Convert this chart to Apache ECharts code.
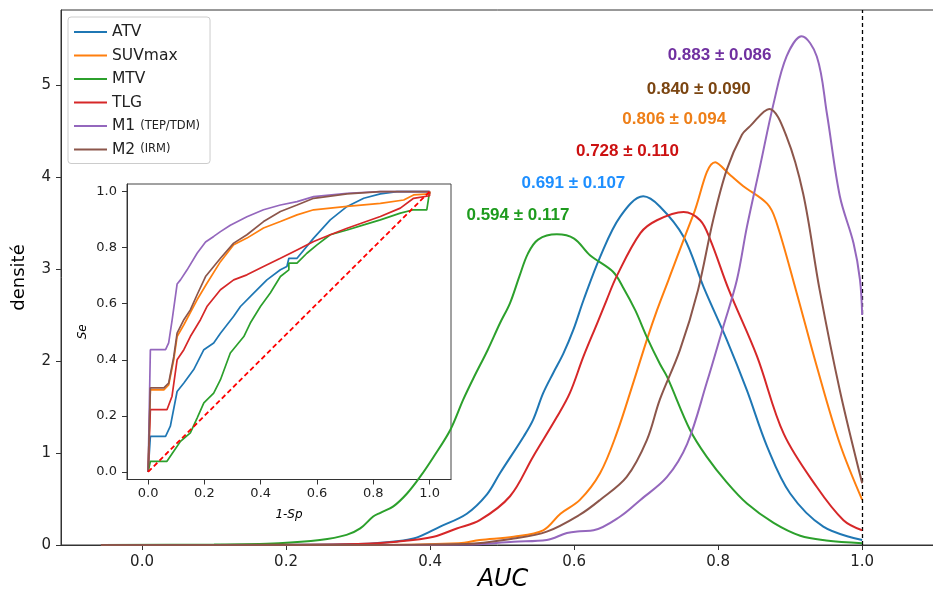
<!DOCTYPE html>
<html><head><meta charset="utf-8">
<script src="https://cdn.jsdelivr.net/npm/echarts@6/dist/echarts.min.js"></script>
<style>html,body{margin:0;padding:0;background:#fff;overflow:hidden}#c{width:933px;height:591px}</style>
</head><body><div id="c"></div><script>
// ---------- data ----------
const seriesNames = ['ATV', 'SUVmax', 'MTV', 'TLG', 'M1 (TEP/TDM)', 'M2 (IRM)'];
const seriesColors = ['#1f77b4', '#ff7f0e', '#2ca02c', '#d62728', '#9467bd', '#8c564b'];

// density curves of AUC: [AUC, density]
const densATV = [[-0.057,0],[0.2,0.003],[0.3,0.01],[0.331,0.025],[0.377,0.07],[0.414,0.2],[0.451,0.34],[0.479,0.55],[0.497,0.78],[0.53,1.18],[0.543,1.36],[0.557,1.65],[0.571,1.87],[0.585,2.08],[0.599,2.34],[0.613,2.66],[0.636,3.13],[0.664,3.57],[0.696,3.79],[0.719,3.68],[0.752,3.35],[0.78,2.8],[0.812,2.23],[0.84,1.68],[0.868,1.07],[0.9,0.56],[0.946,0.2],[1.0,0.054]];
const densSUVmax = [[-0.057,0],[0.3,0],[0.44,0.02],[0.469,0.054],[0.516,0.09],[0.557,0.16],[0.581,0.34],[0.608,0.49],[0.636,0.78],[0.659,1.21],[0.682,1.76],[0.701,2.23],[0.715,2.55],[0.731,2.88],[0.766,3.6],[0.796,4.16],[0.817,4.02],[0.835,3.9],[0.868,3.71],[0.88,3.53],[0.908,2.77],[0.937,1.94],[0.969,1.1],[1.0,0.49]];
const densMTV = [[-0.057,0],[0.1,0.005],[0.19,0.02],[0.247,0.054],[0.284,0.11],[0.303,0.18],[0.321,0.31],[0.331,0.35],[0.349,0.42],[0.368,0.56],[0.386,0.74],[0.405,0.96],[0.428,1.25],[0.446,1.58],[0.46,1.81],[0.48,2.12],[0.497,2.41],[0.511,2.63],[0.524,2.92],[0.536,3.17],[0.55,3.32],[0.576,3.377],[0.6,3.33],[0.622,3.15],[0.654,2.97],[0.668,2.8],[0.685,2.55],[0.701,2.26],[0.719,1.97],[0.729,1.83],[0.761,1.25],[0.784,0.96],[0.812,0.68],[0.84,0.45],[0.877,0.24],[0.914,0.1],[0.95,0.05],[1.0,0.02]];
const densTLG = [[-0.057,0],[0.2,0.003],[0.3,0.01],[0.354,0.036],[0.405,0.09],[0.437,0.18],[0.469,0.27],[0.511,0.53],[0.543,0.96],[0.576,1.39],[0.594,1.65],[0.613,2.05],[0.632,2.41],[0.645,2.66],[0.659,2.92],[0.692,3.39],[0.715,3.53],[0.752,3.62],[0.775,3.53],[0.789,3.32],[0.815,2.77],[0.854,2.05],[0.891,1.21],[0.937,0.63],[0.974,0.27],[1.0,0.16]];
const densM1 = [[-0.057,0],[0.3,0],[0.45,0.005],[0.516,0.036],[0.562,0.054],[0.59,0.13],[0.608,0.15],[0.627,0.16],[0.664,0.31],[0.692,0.49],[0.729,0.74],[0.757,1.1],[0.784,1.76],[0.807,2.37],[0.826,2.88],[0.84,3.46],[0.858,4.11],[0.877,4.8],[0.895,5.31],[0.916,5.53],[0.937,5.31],[0.951,4.69],[0.969,3.79],[0.988,3.28],[0.997,2.88],[1.0,2.5]];
const densM2 = [[-0.057,0],[0.3,0],[0.45,0.01],[0.516,0.07],[0.562,0.145],[0.608,0.33],[0.636,0.49],[0.673,0.74],[0.701,1.14],[0.719,1.58],[0.747,2.12],[0.772,2.77],[0.793,3.53],[0.812,4.08],[0.833,4.46],[0.844,4.55],[0.871,4.74],[0.895,4.44],[0.918,3.82],[0.941,2.77],[0.969,1.68],[1.0,0.67]];

// ROC curves (inset): [1-Sp, Se]
const rocATV = [[0,0],[0.008,0.127],[0.062,0.127],[0.079,0.163],[0.103,0.287],[0.127,0.317],[0.162,0.365],[0.198,0.436],[0.233,0.46],[0.257,0.495],[0.304,0.555],[0.328,0.59],[0.375,0.638],[0.422,0.685],[0.47,0.721],[0.493,0.733],[0.5,0.762],[0.529,0.762],[0.588,0.834],[0.647,0.899],[0.707,0.947],[0.766,0.976],[0.825,0.992],[0.884,1],[1,1]];
const rocSUVmax = [[0,0],[0.008,0.293],[0.056,0.293],[0.073,0.31],[0.091,0.4],[0.103,0.483],[0.127,0.525],[0.174,0.614],[0.209,0.673],[0.257,0.75],[0.304,0.81],[0.351,0.834],[0.41,0.87],[0.47,0.893],[0.529,0.917],[0.588,0.935],[0.707,0.947],[0.825,0.958],[0.908,0.97],[0.943,0.988],[1,0.992],[1,1]];
const rocMTV = [[0,0],[0.008,0.038],[0.067,0.038],[0.091,0.074],[0.115,0.109],[0.15,0.139],[0.174,0.192],[0.198,0.246],[0.233,0.281],[0.257,0.329],[0.292,0.424],[0.34,0.483],[0.363,0.531],[0.399,0.59],[0.434,0.638],[0.47,0.697],[0.5,0.721],[0.5,0.745],[0.529,0.745],[0.564,0.78],[0.6,0.81],[0.647,0.846],[0.707,0.863],[0.766,0.881],[0.825,0.899],[0.896,0.923],[0.943,0.935],[0.99,0.935],[1,1]];
const rocTLG = [[0,0],[0.008,0.222],[0.067,0.222],[0.085,0.27],[0.103,0.4],[0.127,0.436],[0.15,0.483],[0.186,0.543],[0.209,0.59],[0.257,0.65],[0.304,0.685],[0.351,0.703],[0.41,0.733],[0.47,0.762],[0.529,0.792],[0.588,0.822],[0.647,0.846],[0.707,0.869],[0.825,0.911],[0.896,0.941],[0.943,0.976],[1,0.985],[1,1]];
const rocM1 = [[0,0],[0.008,0.436],[0.062,0.436],[0.073,0.46],[0.085,0.54],[0.103,0.67],[0.115,0.685],[0.138,0.72],[0.174,0.78],[0.204,0.82],[0.233,0.84],[0.257,0.857],[0.292,0.88],[0.351,0.91],[0.41,0.935],[0.47,0.952],[0.529,0.964],[0.588,0.982],[0.707,0.994],[0.825,1],[1,1]];
const rocM2 = [[0,0],[0.008,0.3],[0.056,0.3],[0.073,0.317],[0.091,0.41],[0.103,0.495],[0.127,0.543],[0.15,0.578],[0.174,0.632],[0.204,0.697],[0.233,0.733],[0.257,0.762],[0.304,0.816],[0.351,0.846],[0.41,0.893],[0.47,0.929],[0.529,0.952],[0.588,0.976],[0.707,0.992],[0.825,1],[1,1]];
const rocChance = [[0,0],[1,1]];

// AUC annotations (mean ± sd), in series order
const aucTexts = ['0.691 ± 0.107', '0.806 ± 0.094', '0.594 ± 0.117', '0.728 ± 0.110', '0.883 ± 0.086', '0.840 ± 0.090'];

// tick labels
const mainXTicks = [0.0, 0.2, 0.4, 0.6, 0.8, 1.0];
const mainYTicks = [0, 1, 2, 3, 4, 5];
const insetTicks = [0.0, 0.2, 0.4, 0.6, 0.8, 1.0];

// ---------- layout / style (not data) ----------
const labelAnchors = [[0.599, 3.932], [0.739, 4.627], [0.522, 3.579], [0.674, 4.275], [0.802, 5.326], [0.773, 4.957]];
const labelColors = ['#1e8fff', '#ee7f18', '#1e9b1e', '#cc1111', '#7030a0', '#7b4511'];

const densities = [densATV, densSUVmax, densMTV, densTLG, densM1, densM2];
const rocs = [rocATV, rocSUVmax, rocMTV, rocTLG, rocM1, rocM2];

const tickFont = 'DejaVu Sans';
const series = [];
densities.forEach((d, i) => {
  series.push({
    name: seriesNames[i], type: 'line', xAxisIndex: 0, yAxisIndex: 0,
    data: d, showSymbol: false, symbol: 'none', smooth: 0.35,
    lineStyle: { width: 2, color: seriesColors[i] }, itemStyle: { color: seriesColors[i] },
    z: 3 + i,
    markLine: i === 0 ? {
      silent: true, symbol: 'none', label: { show: false },
      lineStyle: { color: '#000', type: [4, 3], width: 1.3 },
      data: [{ xAxis: 1.0 }]
    } : undefined
  });
});
rocs.forEach((d, i) => {
  series.push({
    name: seriesNames[i], type: 'line', xAxisIndex: 1, yAxisIndex: 1,
    data: d, showSymbol: false, symbol: 'none',
    lineStyle: { width: 1.7, color: seriesColors[i] }, itemStyle: { color: seriesColors[i] },
    z: 10 + i
  });
});
series.push({
  name: 'chance', type: 'line', xAxisIndex: 1, yAxisIndex: 1, data: rocChance,
  showSymbol: false, symbol: 'none',
  lineStyle: { width: 1.8, color: '#ff0000', type: [5, 3] }, z: 20
});
series.push({
  name: 'AUC', type: 'scatter', xAxisIndex: 0, yAxisIndex: 0, symbolSize: 0, silent: true, z: 30,
  itemStyle: { opacity: 1 },
  data: labelAnchors.map((p, i) => ({
    value: p,
    label: { show: true, position: 'inside', formatter: aucTexts[i], color: labelColors[i],
      fontWeight: 'bold', fontSize: 17, fontFamily: 'Liberation Sans' }
  }))
});

const axisLineStyle = { show: true, onZero: false, lineStyle: { color: '#333', width: 1 } };

const chart = echarts.init(document.getElementById('c'), null, { renderer: 'canvas' });
chart.setOption({
  backgroundColor: '#ffffff',
  animation: false,
  textStyle: { fontFamily: tickFont },
  legend: {
    data: seriesNames, orient: 'vertical', left: 68, top: 17,
    padding: [7, 10, 6, 6], itemWidth: 33, itemHeight: 14, itemGap: 7.5, itemTextGap: 18,
    icon: 'path://M0,0h33v2h-33z', symbolKeepAspect: true,
    borderColor: '#cccccc', borderWidth: 1, borderRadius: 3, backgroundColor: 'rgba(255,255,255,0.8)',
    textStyle: { fontSize: 15.5, color: '#222', fontFamily: tickFont, rich: { s: { fontSize: 11.5, color: '#222', fontFamily: tickFont } } },
    formatter: n => n.replace(/ \((.*)\)/, ' {s|($1)}'),
    selectedMode: false
  },
  grid: [
    { left: 61, top: 10, width: 884, height: 535, show: true, borderColor: '#333', borderWidth: 1, backgroundColor: 'transparent', outerBoundsMode: 'none', containLabel: false },
    { left: 127, top: 184, width: 324, height: 295.5, show: true, borderColor: '#444', borderWidth: 1, backgroundColor: 'transparent', outerBoundsMode: 'none', containLabel: false }
  ],
  xAxis: [
    { type: 'value', gridIndex: 0, min: -0.1125, max: 1.115,
      axisLine: axisLineStyle,
      axisTick: { show: true, length: 5, customValues: mainXTicks, lineStyle: { color: '#333' } },
      axisLabel: { customValues: mainXTicks, formatter: v => v.toFixed(1), fontSize: 15, color: '#222', margin: 10, fontFamily: tickFont },
      splitLine: { show: false },
      name: 'AUC', nameLocation: 'middle', nameGap: 23, nameMoveOverlap: false,
      nameTextStyle: { fontSize: 24, fontStyle: 'italic', color: '#000', fontFamily: tickFont } },
    { type: 'value', gridIndex: 1, min: -0.075, max: 1.076,
      axisLine: axisLineStyle,
      axisTick: { show: true, length: 5, customValues: insetTicks, lineStyle: { color: '#333' } },
      axisLabel: { customValues: insetTicks, formatter: v => v.toFixed(1), fontSize: 13, color: '#222', margin: 8, fontFamily: tickFont },
      splitLine: { show: false },
      name: '1-Sp', nameLocation: 'middle', nameGap: 29, nameMoveOverlap: false,
      nameTextStyle: { fontSize: 12, fontStyle: 'italic', color: '#000', fontFamily: tickFont } }
  ],
  yAxis: [
    { type: 'value', gridIndex: 0, min: 0, max: 5.815,
      axisLine: axisLineStyle,
      axisTick: { show: true, length: 5, customValues: mainYTicks, lineStyle: { color: '#333' } },
      axisLabel: { customValues: mainYTicks, formatter: v => String(v), fontSize: 15, color: '#222', margin: 10, fontFamily: tickFont },
      splitLine: { show: false },
      name: 'densité', nameLocation: 'middle', nameGap: 33, nameMoveOverlap: false,
      nameTextStyle: { fontSize: 18, color: '#000', fontFamily: tickFont } },
    { type: 'value', gridIndex: 1, min: -0.027, max: 1.027,
      axisLine: axisLineStyle,
      axisTick: { show: true, length: 5, customValues: insetTicks, lineStyle: { color: '#333' } },
      axisLabel: { customValues: insetTicks, formatter: v => v.toFixed(1), fontSize: 13, color: '#222', margin: 10, fontFamily: tickFont },
      splitLine: { show: false },
      name: 'Se', nameLocation: 'middle', nameGap: 38, nameMoveOverlap: false,
      nameTextStyle: { fontSize: 12, fontStyle: 'italic', color: '#000', fontFamily: tickFont } }
  ],
  series: series
});
</script></body></html>
